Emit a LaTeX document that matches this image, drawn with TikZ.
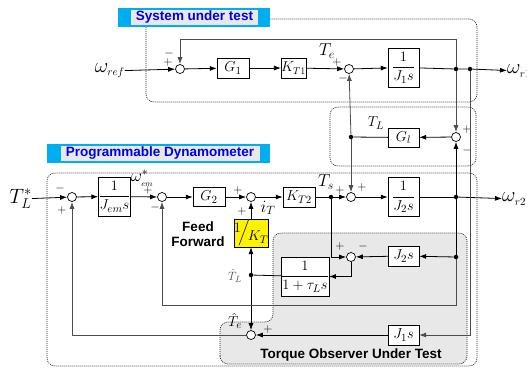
\documentclass[tikz,border=0pt]{standalone}
\usepackage{amsmath}
\usepackage{fontspec}
\setsansfont{Liberation Sans}
\usetikzlibrary{arrows.meta, positioning}
\tikzstyle{blk} = [rectangle, draw=black, fill=white, inner sep=0pt, minimum width=32pt, minimum height=20pt]
\tikzstyle{fracblk} = [blk, minimum width=31pt, minimum height=39pt]
\tikzstyle{sumpt} = [circle, draw=black, fill=white, line width=0.7pt, inner sep=0pt, minimum size=9pt]
\tikzstyle{junc} = [circle, fill=black, inner sep=0pt, minimum size=4.5pt]
\tikzstyle{sgn} = [inner sep=0pt, font=\fontsize{12}{12}\selectfont]
\tikzstyle{sig} = [inner sep=0pt, font=\fontsize{22}{24}\selectfont]
\tikzstyle{lbl} = [inner sep=0pt, font=\fontsize{17}{19}\selectfont]
\tikzstyle{tagbg} = [fill=cyan, minimum height=19pt, inner sep=0pt]
\tikzstyle{tagtxt} = [fill=gray!18, text=blue!90!black, minimum height=15pt, inner sep=0pt, font=\sffamily\bfseries\fontsize{13.5}{15}\selectfont]
\tikzstyle{note} = [inner sep=0pt, font=\sffamily\bfseries\fontsize{13.5}{15}\selectfont]
\tikzstyle{region} = [draw=black!85, dash pattern=on 1pt off 1pt, line width=0.7pt, rounded corners=8pt]
\tikzstyle{arrow} = [line width=0.8pt, -{Latex[length=7pt,width=5pt]}]
\tikzstyle{wire} = [line width=0.8pt]
\tikzstyle{fb} = [draw=black!70]

\begin{document}
\begin{tikzpicture}[x=1pt, y=-1pt, font=\fontsize{15}{17}\selectfont]
\useasboundingbox (0,0) rectangle (527,367);

% dotted regions
\draw [region] (146,19) rectangle (477,102);
\draw [region] (330,107) rectangle (476,166);
\draw [region] (47,173) rectangle (477,366);
\path [region, fill=gray!18] (220,364) -- (220,322) -- (273,322) -- (273,233) -- (467,233) -- (467,364) -- cycle;

% tags
\node (sysTag) [tagbg, minimum width=152pt] at (194,17.5) {};
\node (sysTxt) [tagtxt, minimum width=127pt] at (194.5,17.5) {System under test};
\node (dynTag) [tagbg, minimum width=223pt] at (158.5,153.5) {};
\node (dynTxt) [tagtxt, minimum width=199pt] at (160,153.5) {Programmable Dynamometer};
\node (obsTxt) [note] at (351,355) {Torque Observer Under Test};
\node (feed) [note] at (198,227) {Feed};
\node (fwd) [note, below=4pt of feed] {Forward};

% system under test
\node (wref) [sig, anchor=east] at (125,71) {$\omega_{\scriptscriptstyle ref}$};
\node (sum1) [sumpt] at (180,69) {};
\node (G1) [blk] at (233,68) {$G_1$};
\node (KT1) [blk, minimum width=23pt, font=\fontsize{14}{16}\selectfont] at (293.5,68) {$K_{T1}$};
\node (sum2) [sumpt] at (349,69) {};
\node (Te) [lbl] at (327,51) {$T_e$};
\node (J1) [fracblk] at (403.5,67.5) {$\dfrac{1}{J_1s}$};
\node (dot1) [junc] at (456,69) {};
\node (dot2) [junc] at (470,69) {};
\node (wr1) [sig, anchor=west] at (507,71) {$\omega_{\scriptscriptstyle r1}$};
\coordinate (fbTop) at (456,39);

\node (p1) [sgn] at (168,62) {$+$};
\node (m1) [sgn] at (169,53) {$-$};
\node (p2) [sgn] at (337,62) {$+$};
\node (m2) [sgn] at (343,78) {$-$};

% shaft coupling
\node (sum9) [sumpt] at (456,137) {};
\node (Gl) [blk, minimum width=31pt, minimum height=19pt] at (403.5,137.5) {$G_l$};
\node (TLdot) [junc] at (351,137) {};
\node (TL) [lbl, font=\fontsize{15}{17}\selectfont] at (376,123) {$T_L$};
\node (p9) [sgn] at (467,129) {$+$};
\node (m9) [sgn] at (467,150) {$-$};

% programmable dynamometer
\node (TLstar) [sig, anchor=east] at (32,199) {$T^*_L$};
\node (sum4) [sumpt] at (72,197) {};
\node (Jem) [fracblk] at (114.5,196.5) {$\dfrac{1}{J_{em}s}$};
\node (wem) [lbl] at (142,178) {$\omega^*_{\scriptscriptstyle em}$};
\node (sum5) [sumpt] at (162,197) {};
\node (G2) [blk, minimum height=19pt] at (209,197) {$G_2$};
\node (sum6) [sumpt] at (251,197) {};
\node (iT) [lbl] at (268,208) {$i_T$};
\node (KT2) [blk] at (299,197) {$K_{T2}$};
\node (Ts) [lbl] at (326,182) {$T_s$};
\node (Tsdot) [junc] at (331,197) {};
\node (sum3) [sumpt] at (351,197) {};
\node (J2) [fracblk] at (403.5,197) {$\dfrac{1}{J_2s}$};
\node (dot3) [junc] at (456,197) {};
\node (wr2) [sig, anchor=west] at (502,199) {$\omega_{\scriptscriptstyle r2}$};
\node (KTinv) [blk, fill=yellow, minimum width=33pt, minimum height=28pt] at (251,233) {$\raisebox{4pt}{$1$}\!\Big/\!\raisebox{-4pt}{$K_T$}$};

\node (p4) [sgn] at (60,188) {$-$};
\node (p4b) [sgn] at (62,210) {$+$};
\node (p5) [sgn] at (148,190) {$+$};
\node (m5) [sgn] at (155,207) {$-$};
\node (p6) [sgn] at (238,190) {$+$};
\node (p6b) [sgn] at (242,211) {$+$};
\node (p3) [sgn] at (340,190) {$+$};
\node (p3b) [sgn] at (362,187) {$+$};

% torque observer
\node (sum7) [sumpt] at (351,257) {};
\node (J2s) [blk, minimum width=31pt] at (403.5,256) {$J_2s$};
\node (dot4) [junc] at (456,257) {};
\node (tau) [fracblk, minimum width=44pt] at (305,276.5) {$\dfrac{1}{1+\tau_Ls}$};
\node (hTLdot) [junc] at (251,275) {};
\node (hTL) [lbl, font=\fontsize{13}{15}\selectfont, text=black!70] at (235,276) {$\hat{T}_L$};
\node (sum8) [sumpt] at (251,335) {};
\node (hTe) [lbl, font=\fontsize{15}{17}\selectfont] at (235,321) {$\hat{T}_e$};
\node (J1s) [blk, minimum width=31pt] at (403.5,335) {$J_1s$};
\coordinate (loopR) at (456,305);
\coordinate (obsR) at (470,335);

\node (p7) [sgn] at (340,246) {$+$};
\node (m7) [sgn] at (363,246) {$-$};
\node (p8) [sgn] at (268,329) {$+$};

% connectors, system under test
\draw [arrow] (wref) -- (sum1);
\draw [arrow] (sum1) -- (G1);
\draw [arrow] (G1) -- (KT1);
\draw [arrow] (KT1) -- (sum2);
\draw [arrow] (sum2) -- (J1);
\draw [wire] (J1) -- (dot1) -- (dot2);
\draw [arrow] (dot2) -- (wr1);
\draw [arrow, fb] (dot1) -- (fbTop) -| (sum1);

% connectors, shaft coupling
\draw [arrow, fb] (dot1) -- (sum9);
\draw [arrow] (dot3) -- (sum9);
\draw [arrow] (sum9) -- (Gl);
\draw [wire] (Gl) -- (TLdot);
\draw [arrow, fb] (TLdot) -- (sum2);
\draw [arrow, fb] (TLdot) -- (sum3);

% connectors, dynamometer
\draw [arrow] (TLstar) -- (sum4);
\draw [arrow] (sum4) -- (Jem);
\draw [arrow] (Jem) -- (sum5);
\draw [arrow] (sum5) -- (G2);
\draw [arrow] (G2) -- (sum6);
\draw [arrow] (sum6) -- (KT2);
\draw [wire] (KT2) -- (Tsdot);
\draw [arrow] (Tsdot) -- (sum3);
\draw [arrow] (sum3) -- (J2);
\draw [wire] (J2) -- (dot3);
\draw [arrow] (dot3) -- (wr2);
\draw [arrow] (KTinv) -- (sum6);

% connectors, observer
\draw [wire] (dot3) -- (dot4);
\draw [arrow] (dot4) -- (J2s);
\draw [arrow] (J2s) -- (sum7);
\draw [arrow] (Tsdot) |- (sum7);
\draw [arrow] (sum7) |- (tau);
\draw [wire] (tau) -- (hTLdot);
\draw [arrow] (hTLdot) -- (KTinv);
\draw [arrow] (hTLdot) -- (sum8);
\draw [arrow, fb] (dot4) -- (loopR) -| (sum5);
\draw [arrow, fb] (dot2) -- (obsR) -- (J1s);
\draw [arrow] (J1s) -- (sum8);
\draw [arrow, fb] (sum8) -| (sum4);

\end{tikzpicture}
\end{document}
